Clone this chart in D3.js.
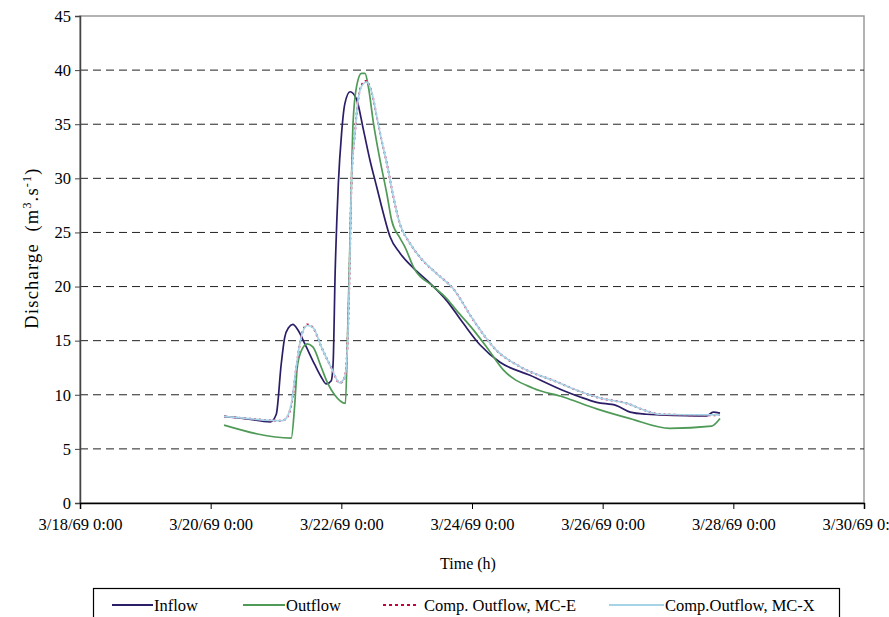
<!DOCTYPE html>
<html>
<head>
<meta charset="utf-8">
<script src="https://cdn.jsdelivr.net/npm/d3@7"></script>
<style>
  body { margin: 0; background: #fff; }
  svg, svg text { font-family: "Liberation Serif", "DejaVu Serif", serif !important; }
</style>
</head>
<body>
<div id="chart"></div>
<script>
// hours after 3/20/69 0:00, discharge in m3/s
var inflowHours = [4.9, 12.6, 22.0, 24.1, 25.9, 27.2, 28.6, 30.2, 32.0, 34.6, 38.2, 40.7, 42.5, 44.3, 45.0, 45.7, 46.9, 48.1, 49.3, 51.2, 53.6, 56.1, 58.5, 61.0, 63.4, 65.9, 69.5, 74.5, 80.6, 86.7, 92.8, 99.0, 106.3, 117.3, 129.5, 135.7, 141.8, 149.1, 154.1, 160.2, 165.0, 182.2, 184.6, 187.1];
var inflowQ = [8.0, 7.8, 7.5, 8.2, 12.8, 15.3, 16.2, 16.5, 16.0, 14.7, 12.8, 11.6, 11.0, 11.3, 13.0, 21.0, 29.5, 34.2, 36.9, 38.0, 37.3, 34.5, 31.7, 29.2, 26.8, 24.6, 23.1, 21.7, 20.3, 18.7, 16.6, 14.6, 13.0, 11.8, 10.4, 9.8, 9.3, 9.0, 8.4, 8.2, 8.15, 8.05, 8.4, 8.3];

var outflowHours = [4.9, 29.6, 30.8, 31.8, 33.2, 35.5, 37.6, 40.7, 43.1, 45.5, 49.5, 50.3, 51.1, 51.7, 52.3, 53.6, 55.4, 56.7, 57.9, 59.8, 62.2, 64.7, 66.5, 69.5, 71.3, 74.5, 81.8, 86.7, 90.3, 96.5, 101.4, 107.5, 118.5, 129.5, 141.8, 154.1, 168.7, 184.0, 187.1];
var outflowQ = [7.2, 6.0, 8.8, 12.5, 14.0, 14.7, 14.4, 12.5, 11.0, 10.0, 9.2, 15.6, 23.4, 29.5, 35.1, 38.5, 39.7, 39.7, 38.5, 35.1, 31.7, 28.6, 26.1, 24.5, 23.7, 21.8, 20.0, 18.9, 17.8, 16.0, 14.4, 12.3, 10.6, 9.8, 8.7, 7.8, 6.9, 7.1, 7.8];

var mcxHours = [4.9, 13.8, 25.9, 27.2, 29.6, 31.4, 33.2, 35.5, 37.6, 40.7, 44.3, 47.4, 49.2, 49.6, 50.4, 51.0, 51.7, 53.0, 54.2, 55.4, 57.3, 59.2, 61.0, 62.8, 64.7, 67.1, 69.5, 73.2, 76.9, 83.0, 89.1, 96.5, 105.0, 113.6, 127.1, 135.7, 143.0, 152.9, 160.2, 165.0, 183.4, 187.1];
var mcxQ = [8.0, 7.8, 7.6, 7.7, 9.1, 12.5, 15.3, 16.4, 16.2, 14.4, 12.5, 11.1, 11.6, 12.0, 15.5, 21.0, 29.5, 34.2, 37.3, 38.5, 38.9, 37.9, 35.7, 33.5, 31.4, 28.3, 25.8, 24.0, 22.7, 21.2, 19.8, 16.9, 14.1, 12.6, 11.2, 10.3, 9.7, 9.2, 8.5, 8.2, 8.15, 8.15];

var mceHours = [4.9, 13.8, 25.9, 27.2, 29.6, 31.4, 33.2, 35.5, 37.6, 40.7, 44.3, 47.4, 49.2, 49.6, 50.4, 51.0, 51.7, 53.0, 54.2, 55.4, 57.1, 59.2, 61.0, 62.8, 64.7, 67.1, 69.5, 73.2, 76.9, 83.0, 89.1, 96.5, 105.0, 113.6, 127.1, 135.7, 143.0, 152.9, 160.2, 165.0, 183.4, 187.1];
var mceQ = [8.0, 7.8, 7.6, 7.7, 9.0, 12.4, 15.3, 16.5, 16.2, 14.4, 12.5, 11.1, 11.6, 12.1, 15.6, 21.0, 29.4, 34.2, 37.3, 38.6, 39.0, 37.9, 35.7, 33.5, 31.4, 28.3, 25.8, 24.0, 22.7, 21.2, 19.8, 16.9, 14.1, 12.6, 11.2, 10.3, 9.7, 9.2, 8.5, 8.2, 8.1, 8.15];

var tickDates = ["3/18/69", "3/20/69", "3/22/69", "3/24/69", "3/26/69", "3/28/69", "3/30/69"];
var yTicks = [0, 5, 10, 15, 20, 25, 30, 35, 40, 45];

var legendNames = ["Inflow", "Outflow", "Comp. Outflow, MC-E", "Comp.Outflow, MC-X"];
var colors = ["#2b1d66", "#4f9a57", "#c8003c", "#a6d3e6"];

var FONT = "'Liberation Serif', 'DejaVu Serif', serif";

var width = 889, height = 617;
var margin = { top: 16, right: 25, bottom: 114, left: 80 },
    w = width - margin.left - margin.right,
    h = height - margin.top - margin.bottom;

var parseDay = d3.timeParse("%m/%d/%y");
var fmt = d3.timeFormat("%-m/%-d/%y %-H:%M");
var ticks = tickDates.map(function (s) { return parseDay(s); });
var start = parseDay("3/20/69");

var svg = d3.select("#chart")
    .append("svg")
    .attr("width", width)
    .attr("height", height)
    .style("font-family", FONT);

svg.append("rect").attr("width", width).attr("height", height).attr("fill", "#fff");

var g = svg.append("g")
    .attr("transform", "translate(" + margin.left + "," + margin.top + ")");

var x = d3.scaleTime()
    .domain([ticks[0], ticks[ticks.length - 1]])
    .range([0, w]);

var y = d3.scaleLinear()
    .domain([0, 45])
    .range([h, 0]);

// plot area border (grey, top + right)
g.append("rect")
    .attr("x", 0).attr("y", 0)
    .attr("width", w).attr("height", h)
    .attr("fill", "none")
    .attr("stroke", "#9a9a9a")
    .attr("stroke-width", 1.5);

// grid
g.selectAll(".grid")
    .data(yTicks.filter(function (d) { return d > 0 && d < 45; }))
    .enter().append("line")
    .attr("x1", 0).attr("x2", w)
    .attr("y1", function (d) { return y(d); })
    .attr("y2", function (d) { return y(d); })
    .attr("stroke", "#222")
    .attr("stroke-width", 1)
    .attr("stroke-dasharray", "8,5");

// axes
var yAxis = g.append("g")
    .call(d3.axisLeft(y).tickValues(yTicks).tickSize(5).tickPadding(4));
yAxis.attr("font-family", null).attr("font-size", null);
yAxis.select(".domain").attr("stroke", "#444").attr("stroke-width", 1.5);
yAxis.selectAll("line").attr("stroke", "#444");
yAxis.selectAll("text").style("font-family", FONT).style("font-size", "16.5px").attr("fill", "#000");

var xAxis = g.append("g")
    .attr("transform", "translate(0," + h + ")")
    .call(d3.axisBottom(x).tickValues(ticks).tickFormat(fmt).tickSize(6).tickPadding(9));
xAxis.attr("font-family", null).attr("font-size", null);
xAxis.select(".domain").attr("stroke", "#000").attr("stroke-width", 1.5);
xAxis.selectAll("text").style("font-family", FONT).style("font-size", "16.5px").attr("fill", "#000");

// series
function pts(hrs, q) {
    return hrs.map(function (d, i) { return { t: d3.timeMinute.offset(start, Math.round(d * 60)), q: q[i] }; });
}

var line = d3.line()
    .x(function (d) { return x(d.t); })
    .y(function (d) { return y(d.q); })
    .curve(d3.curveMonotoneX);

var series = [
    { data: pts(inflowHours, inflowQ), dash: null },
    { data: pts(outflowHours, outflowQ), dash: null },
    { data: pts(mceHours, mceQ), dash: "2,3" },
    { data: pts(mcxHours, mcxQ), dash: null }
];

series.forEach(function (s, i) {
    g.append("path")
        .datum(s.data)
        .attr("d", line)
        .attr("fill", "none")
        .attr("stroke", colors[i])
        .attr("stroke-width", i == 2 ? 2 : 1.7)
        .attr("stroke-dasharray", s.dash);
});

// axis titles
svg.append("text")
    .attr("x", 468).attr("y", 569)
    .attr("text-anchor", "middle")
    .style("font-family", FONT)
    .style("font-size", "16px")
    .text("Time (h)");

var yt = svg.append("text")
    .attr("transform", "translate(38,248) rotate(-90)")
    .attr("text-anchor", "middle")
    .style("font-family", FONT)
    .style("font-size", "18.5px")
    .style("letter-spacing", "1.2px")
    .style("white-space", "pre");
yt.append("tspan").text("Discharge  (m");
yt.append("tspan").attr("baseline-shift", "super").style("font-size", "12px").text("3");
yt.append("tspan").text(".s");
yt.append("tspan").attr("baseline-shift", "super").style("font-size", "12px").text("-1");
yt.append("tspan").text(")");

// legend
svg.append("rect")
    .attr("x", 93.5).attr("y", 588.5)
    .attr("width", 746).attr("height", 60)
    .attr("fill", "#fff")
    .attr("stroke", "#000")
    .attr("stroke-width", 1.2);

var legX = [[112, 153], [243, 285], [383, 419], [609, 664]];
var legTextX = [154, 286, 424, 665];

legendNames.forEach(function (name, i) {
    svg.append("line")
        .attr("x1", legX[i][0]).attr("x2", legX[i][1])
        .attr("y1", 605).attr("y2", 605)
        .attr("stroke", colors[i])
        .attr("stroke-width", 2)
        .attr("stroke-dasharray", i == 2 ? "3,3" : null);
    svg.append("text")
        .attr("x", legTextX[i]).attr("y", 611)
        .style("font-family", FONT)
        .style("font-size", "16.5px")
        .text(name);
});
</script>
</body>
</html>
